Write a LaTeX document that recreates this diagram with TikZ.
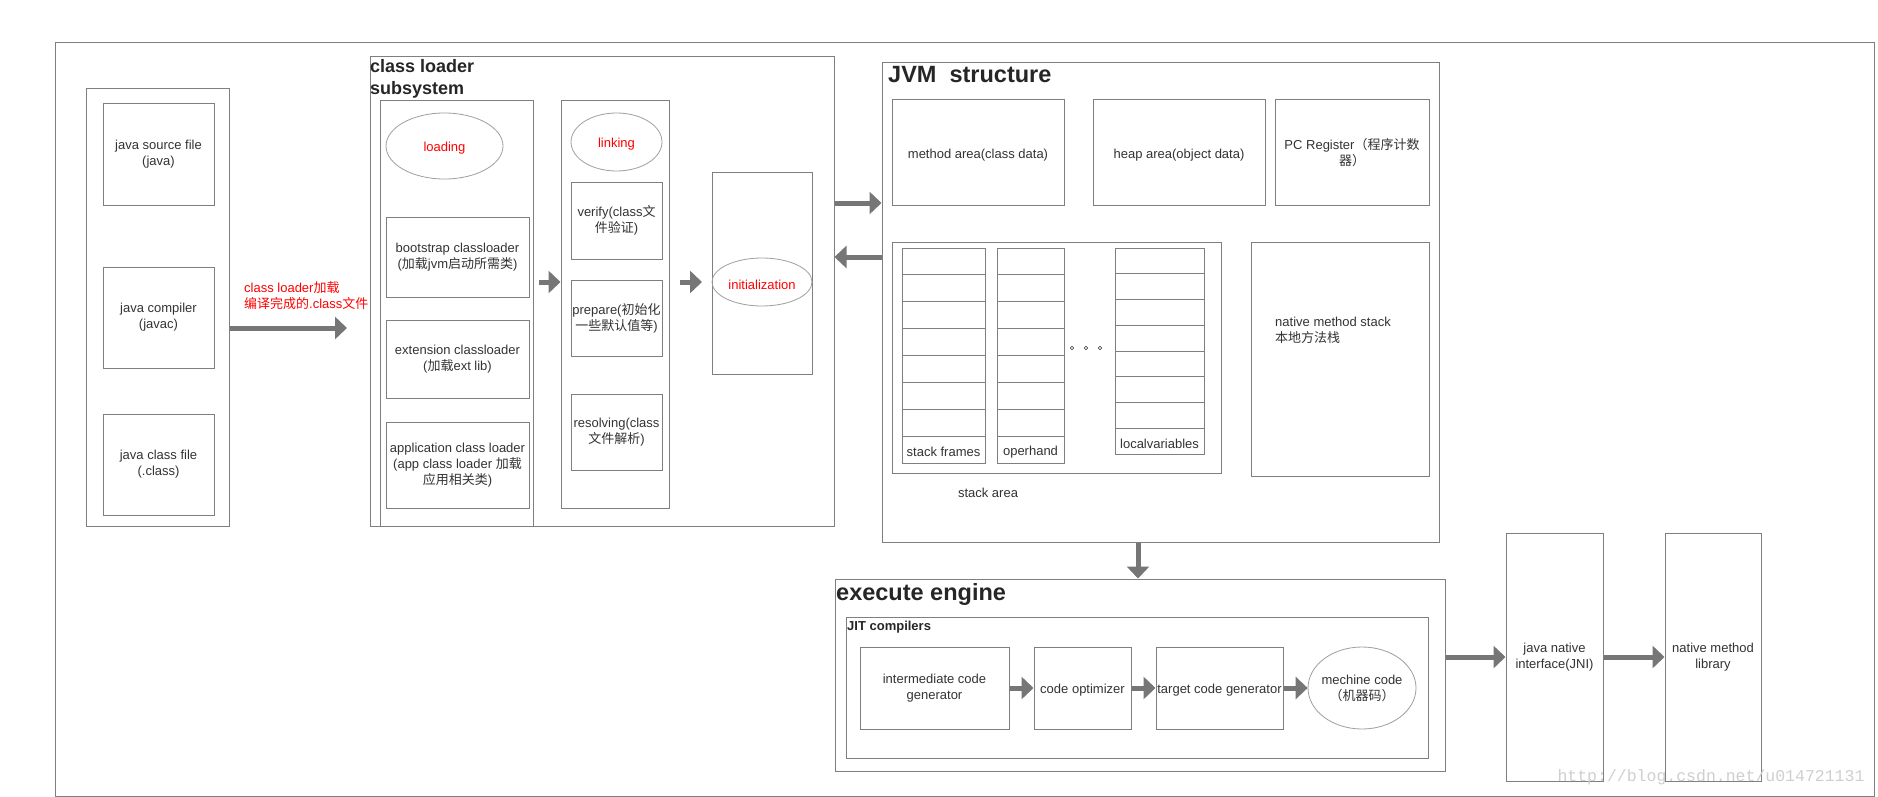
\documentclass[tikz,border=0pt]{standalone}
\usepackage{fontspec}
\setmainfont{Liberation Sans}
\newfontfamily\cjk{Noto Sans CJK SC}
\newfontfamily\wmfont{Liberation Mono}
\usepackage{xcolor}
\usepackage{tikz}
\usetikzlibrary{arrows.meta}
\usetikzlibrary{shapes.geometric}

\definecolor{linegray}{HTML}{7F7F7F}
\definecolor{arrowgray}{HTML}{767676}
\definecolor{textgray}{HTML}{333333}
\definecolor{titlegray}{HTML}{262626}
\definecolor{markgray}{HTML}{CFCFCF}

\newcommand{\zh}[1]{{\cjk #1}}
\newcommand{\boxfont}{\fontsize{13}{16}\selectfont}
\newcommand{\lowstrut}{\rule{0pt}{14.5pt}}

\begin{document}
\begin{tikzpicture}[x=1pt,y=-1pt]
    \tikzstyle{frame}=[draw=linegray,line width=1pt,rectangle,inner sep=0pt]
    \tikzstyle{box}=[draw=linegray,line width=1pt,rectangle,inner sep=1pt,align=center,text=textgray,font=\boxfont,execute at begin node=\lowstrut]
    \tikzstyle{stage}=[draw=gray!75,line width=0.8pt,ellipse,inner sep=-8pt,align=center,text=red,font=\boxfont,execute at begin node=\lowstrut]
    \tikzstyle{cell}=[draw=linegray,line width=1pt,rectangle,inner sep=0pt,text=textgray,font=\boxfont,execute at begin node=\lowstrut]
    \tikzstyle{plain text}=[inner sep=0pt,text=textgray,font=\boxfont]
    \tikzstyle{big title}=[anchor=base west,inner sep=0pt,text=titlegray,font=\fontsize{23.5}{28}\bfseries\selectfont]
    \tikzstyle{mid title}=[anchor=base west,inner sep=0pt,text=titlegray,font=\fontsize{18}{22}\bfseries\selectfont]
    \tikzstyle{small title}=[anchor=base west,inner sep=0pt,text=titlegray,font=\fontsize{13}{16}\bfseries\selectfont]
    \tikzstyle{fat arrow}=[-{Triangle[length=12pt,width=22pt]},line width=5pt,color=arrowgray]
    \tikzstyle{dot}=[circle,draw=textgray,line width=0.6pt,minimum size=3.5pt,inner sep=0pt]

    \useasboundingbox (0,0) rectangle (1878,797);
    \fill[white] (0,0) rectangle (1878,797);

    % Page frame
    \node[style=frame,minimum width=1819pt,minimum height=753pt] (page) at (964.5,419.5) {};

    % Source files
    \node[style=frame,minimum width=143pt,minimum height=437pt] (files) at (157.5,307.5) {};
    \node[style=box,minimum width=111pt,minimum height=101pt] (src) at (158.5,154.5) {java source file\\(java)};
    \node[style=box,minimum width=111pt,minimum height=101pt] (javac) at (158.5,317.5) {java compiler\\(javac)};
    \node[style=box,minimum width=111pt,minimum height=101pt] (bytecode) at (158.5,464.5) {java class file\\(.class)};

    \coordinate (load tip) at (347,328);
    \draw[style=fat arrow] (files.east |- load tip) -- (load tip);
    \node[style=plain text,text=red,align=left,anchor=west] (load note) at (244,295.5)
        {class loader\zh{加载}\\\zh{编译完成的}.class\zh{文件}};

    % Class loader subsystem
    \node[style=frame,minimum width=464pt,minimum height=469pt] (cls) at (602,291.5) {};
    \node[style=mid title] (cls title) at (370,73) {class loader};
    \node[style=mid title] (cls title2) at (370,95) {subsystem};

    \node[style=frame,minimum width=153pt,minimum height=425pt] (loadcol) at (456.5,313.5) {};
    \node[style=stage,minimum width=117pt,minimum height=66pt] (loading) at (444.5,146) {loading};
    \node[style=box,minimum width=143pt,minimum height=80pt] (boot) at (457.5,257) {bootstrap classloader\\(\zh{加载}jvm\zh{启动所需类})};
    \node[style=box,minimum width=143pt,minimum height=78pt] (ext) at (457.5,359) {extension classloader\\(\zh{加载}ext lib)};
    \node[style=box,minimum width=143pt,minimum height=86pt] (app) at (457.5,465) {application class loader\\(app class loader \zh{加载}\\\zh{应用相关类})};

    \node[style=frame,minimum width=108pt,minimum height=407pt] (linkcol) at (615,304.5) {};
    \node[style=stage,minimum width=91pt,minimum height=58pt] (linking) at (616.5,142) {linking};
    \node[style=box,minimum width=91pt,minimum height=77pt] (verify) at (616.5,220.5) {verify(class\zh{文}\\\zh{件验证})};
    \node[style=box,minimum width=91pt,minimum height=76pt] (prepare) at (616.5,318) {prepare(\zh{初始化}\\\zh{一些默认值等})};
    \node[style=box,minimum width=91pt,minimum height=76pt] (resolve) at (616.5,432) {resolving(class\\\zh{文件解析})};

    \node[style=frame,minimum width=100pt,minimum height=202pt] (initbox) at (762,273) {};
    \node[style=stage,minimum width=100pt,minimum height=48pt] (init) at (762,282) {initialization};

    \coordinate (link tail) at (539,282);
    \draw[style=fat arrow] (link tail) -- (linkcol.west |- link tail);
    \coordinate (init tail) at (680,282);
    \coordinate (init tip) at (702,282);
    \draw[style=fat arrow] (init tail) -- (init tip);

    % JVM structure
    \node[style=frame,minimum width=557pt,minimum height=479pt] (jvm) at (1160.5,302.5) {};
    \node[style=big title] (jvm title) at (888,83) {JVM\ \ structure};

    \draw[style=fat arrow] (cls.east |- 0,203) -- (jvm.west |- 0,203);
    \draw[style=fat arrow] (jvm.west |- 0,257) -- (cls.east |- 0,257);

    \node[style=box,minimum width=172pt,minimum height=105pt] (method) at (978,152.5) {method area(class data)};
    \node[style=box,minimum width=172pt,minimum height=105pt] (heap) at (1179,152.5) {heap area(object data)};
    \node[style=box,minimum width=154pt,minimum height=105pt] (pc) at (1352,152.5) {PC Register\zh{（程序计数}\\\zh{器）}};

    \node[style=frame,minimum width=329pt,minimum height=231pt] (stack) at (1056.5,357.5) {};
    \foreach \i in {0,...,6}
        \node[style=cell,minimum width=83pt,minimum height=26.9pt] (sf\i) at (943.5,{261.45+26.9*\i}) {};
    \node[style=cell,minimum width=83pt,minimum height=26.9pt] (sf7) at (943.5,449.75) {stack frames};
    \foreach \i in {0,...,6}
        \node[style=cell,minimum width=67pt,minimum height=26.9pt] (op\i) at (1030.5,{261.45+26.9*\i}) {};
    \node[style=cell,minimum width=67pt,minimum height=26.9pt] (op7) at (1030.5,449.75) {operhand};
    \foreach \i in {0,...,6}
        \node[style=cell,minimum width=89pt,minimum height=25.75pt] (lv\i) at (1159.5,{260.875+25.75*\i}) {};
    \node[style=cell,minimum width=89pt,minimum height=25.75pt] (lv7) at (1159.5,441.125) {localvariables};
    \foreach \x [count=\i] in {1072,1086,1100}
        \node[style=dot] (dot\i) at (\x,348) {};
    \node[style=plain text] (stack label) at (988,493) {stack area};

    \node[style=frame,minimum width=178pt,minimum height=234pt] (native) at (1340,359) {};
    \node[style=plain text,align=left,anchor=west] (native text) at (1275,330) {native method stack\\\zh{本地方法栈}};

    % Execute engine
    \node[style=frame,minimum width=610pt,minimum height=192pt] (exec) at (1140,675) {};
    \node[style=big title] (exec title) at (836,600) {execute engine};
    \draw[style=fat arrow] (jvm.south -| 1138,0) -- (exec.north -| 1138,0);

    \node[style=frame,minimum width=582pt,minimum height=141pt] (jit) at (1137,687.5) {};
    \node[style=small title] (jit title) at (847,630.5) {JIT compilers};
    \node[style=box,minimum width=149pt,minimum height=82pt] (inter) at (934.5,688) {intermediate code\\generator};
    \node[style=box,minimum width=97pt,minimum height=82pt] (opt) at (1082.5,688) {code optimizer};
    \node[style=box,minimum width=127pt,minimum height=82pt] (target) at (1219.5,688) {target code generator};
    \node[style=stage,text=textgray,minimum width=108pt,minimum height=82pt] (mcode) at (1362,688) {mechine code\\\zh{（机器码）}};
    \draw[style=fat arrow] (inter) -- (opt);
    \draw[style=fat arrow] (opt) -- (target);
    \draw[style=fat arrow] (target) -- (mcode);

    % Native interface
    \node[style=box,minimum width=97pt,minimum height=248pt] (jni) at (1554.5,657) {java native\\interface(JNI)};
    \node[style=box,minimum width=96pt,minimum height=248pt] (lib) at (1713,657) {native method\\library};
    \draw[style=fat arrow] (exec.east |- jni) -- (jni);
    \draw[style=fat arrow] (jni) -- (lib);

    \node[inner sep=0pt,text=markgray,font=\wmfont\fontsize{16.5}{18}\selectfont] (mark) at (1711,777) {http://blog.csdn.net/u014721131};
\end{tikzpicture}
\end{document}
